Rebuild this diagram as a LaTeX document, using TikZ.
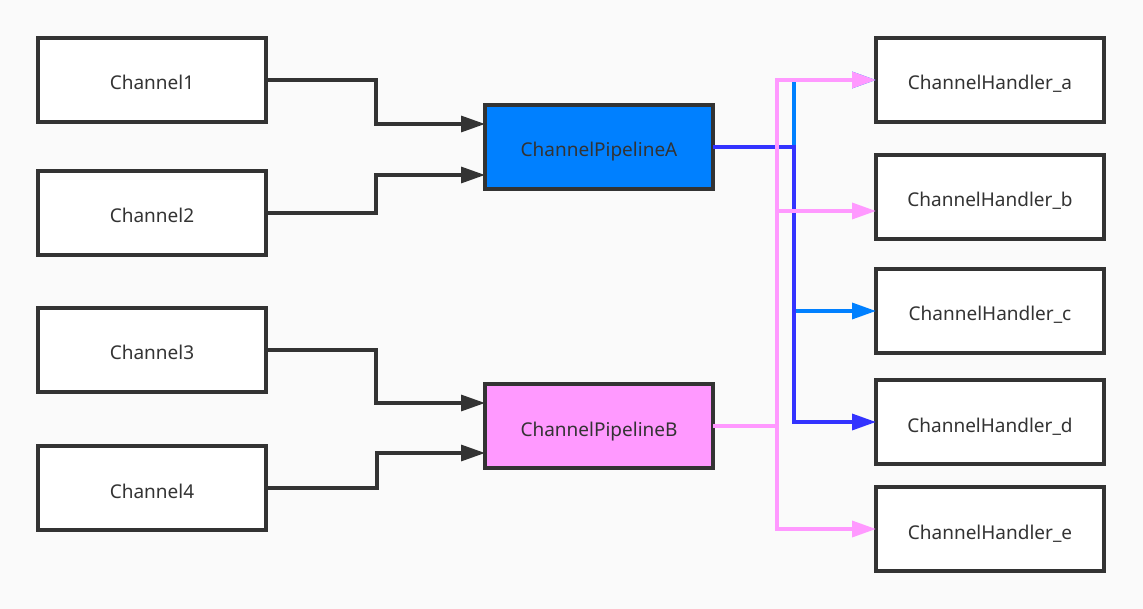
\documentclass[tikz,border=0pt]{standalone}
\usepackage{fontspec}
\setmainfont{Noto Sans}
\usetikzlibrary{arrows.meta,calc}
\definecolor{bg}{HTML}{FAFAFA}
\definecolor{dk}{HTML}{333333}
\definecolor{lblue}{HTML}{0080FF}
\definecolor{dblue}{HTML}{3333FF}
\definecolor{pinkc}{HTML}{FF99FF}
\begin{document}
\begin{tikzpicture}[x=1pt,y=-1pt,
  box/.style={draw=dk,line width=3.2pt,fill=white,minimum width=228pt,minimum height=84pt,inner sep=0pt,outer sep=0pt,text=dk,text height=20pt,text depth=0pt,font=\fontsize{19}{22}\selectfont},
  conn/.style={line width=3.2pt,draw=dk,-{Triangle[length=24pt,width=16pt]}},
  cl/.style={line width=3.4pt,-{Triangle[length=24pt,width=16pt]}}]
\fill[bg] (0,0) rectangle (1143,609);
\useasboundingbox (0,0) rectangle (1143,609);
\node[box] (c1) at (152,80) {Channel1};
\node[box] (c2) at (152,213) {Channel2};
\node[box] (c3) at (152,350) {Channel3};
\node[box] (c4) at (152,488) {Channel4};
\node[box,fill=lblue] (pa) at (599,147) {ChannelPipelineA};
\node[box,fill=pinkc] (pb) at (599,426) {ChannelPipelineB};
\node[box] (ha) at (990,80) {ChannelHandler\_a};
\node[box] (hb) at (990,197) {ChannelHandler\_b};
\node[box] (hc) at (990,311) {ChannelHandler\_c};
\node[box] (hd) at (990,422) {ChannelHandler\_d};
\node[box] (he) at (990,529) {ChannelHandler\_e};
% channels to pipelines
\draw[conn] (c1.east) -| ($(pa.west)+(-109,-23)$) -- ($(pa.west)+(0,-23)$);
\draw[conn] (c2.east) -| ($(pa.west)+(-109,28)$) -- ($(pa.west)+(0,28)$);
\draw[conn] (c3.east) -| ($(pb.west)+(-109,-23)$) -- ($(pb.west)+(0,-23)$);
\draw[conn] (c4.east) -| ($(pb.west)+(-108,27)$) -- ($(pb.west)+(0,27)$);
% pipeline A
\draw[cl,lblue] (pa.east) -- ++(81,0) |- (ha.west);
\draw[cl,lblue] (pa.east) -- ++(81,0) |- (hc.west);
\draw[cl,dblue] (pa.east) -- ++(81,0) |- (hd.west);
% pipeline B
\draw[cl,pinkc] (pb.east) -- ++(64,0) |- (ha.west);
\draw[cl,pinkc] (pb.east) -- ++(64,0) |- ($(hb.west)+(0,14)$);
\draw[cl,pinkc] (pb.east) -- ++(64,0) |- (he.west);
\end{tikzpicture}
\end{document}
